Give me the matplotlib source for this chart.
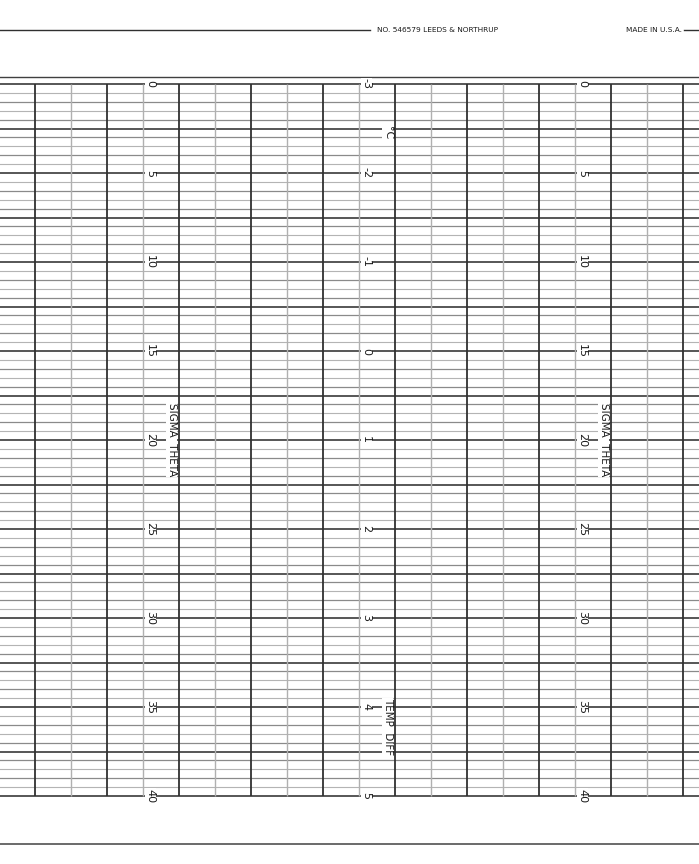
import numpy as np
import matplotlib
matplotlib.use("Agg")
import matplotlib.pyplot as plt

# ---- data ----
sigma_ticks = [0, 5, 10, 15, 20, 25, 30, 35, 40]
temp_ticks = ["-3", "-2", "-1", "0", "1", "2", "3", "4", "5"]
header_left = "NO. 546579 LEEDS & NORTHRUP"
header_right = "MADE IN U.S.A."
sigma_label = "SIGMA  THETA"
temp_label = "TEMP  DIFF"
unit_label = "°C"
n_columns = 19           # vertical rulings (column index 0..18)
label_columns = [3, 9, 15]  # columns holding the scales

W, H, DPI = 699, 864, 100
fig = plt.figure(figsize=(W / DPI, H / DPI), dpi=DPI)
ax = fig.add_axes([0, 0, 1, 1])
ax.set_axis_off()

# pixel mapping: column k at x=35+36k ; sigma s at y=84+17.8 s
px_col, x0 = 36.0, 35.0
py_s, y0 = 712.0 / 40.0, 84.0
ax.set_xlim(-x0 / px_col, (W - x0) / px_col)
ax.set_ylim((H - y0) / py_s, -y0 / py_s)

smin, smax = sigma_ticks[0], sigma_ticks[-1]

# horizontal rulings
for s in np.arange(smin, smax + 0.01, 0.5):
    if abs(s % 2.5) < 1e-6:
        c, lw = "#3a3a3a", 1.2
    elif abs(s % 1.0) < 1e-6:
        c, lw = "#8a8a8a", 0.9
    else:
        c, lw = "#b4b4b4", 0.8
    ax.axhline(s, color=c, lw=lw, zorder=1)

# vertical rulings
for k in range(n_columns):
    if k % 2 == 0:
        c, lw = "#303030", 1.3
    else:
        c, lw = "#b0b0b0", 1.0
    ax.vlines(k, smin, smax, color=c, lw=lw, zorder=2)

# border lines above and below the grid
ax.axhline(smin - 7.0 / py_s, color="#404040", lw=1.0)
ax.axhline(smax + 48.0 / py_s, color="#505050", lw=1.2)

fs = 8
fam = "DejaVu Sans"
bb = dict(facecolor="white", edgecolor="none", pad=0.3)
tc = "#1a1a1a"

# sigma scales (left and right)
for col in (label_columns[0], label_columns[2]):
    for s in sigma_ticks:
        ax.text(col + 0.2, s, str(s), rotation=-90, ha="center", va="center",
                fontsize=fs, family=fam, color=tc, bbox=bb, zorder=5)
    ax.text(col + 0.8, 20, sigma_label, rotation=-90, ha="center", va="center",
            fontsize=7.5, family=fam, color=tc, bbox=bb, zorder=5)

# temperature scale (middle)
mid = label_columns[1]
for s, t in zip(sigma_ticks, temp_ticks):
    ax.text(mid + 0.2, s, t, rotation=-90, ha="center", va="center",
            fontsize=fs, family=fam, color=tc, bbox=bb, zorder=5)
ax.text(mid + 0.8, 2.75, unit_label, rotation=-90, ha="center", va="center",
        fontsize=fs, family=fam, color=tc, bbox=bb, zorder=5)
ax.text(mid + 0.8, 36.1, temp_label, rotation=-90, ha="center", va="center",
        fontsize=7.5, family=fam, color=tc, bbox=bb, zorder=5)

# header
yh = smin - 54.0 / py_s
ax.plot([-x0 / px_col, (370 - x0) / px_col], [yh, yh], color="#303030", lw=1.0)
ax.text((377 - x0) / px_col, yh, header_left, ha="left", va="center",
        fontsize=5.3, family=fam, color=tc)
ax.text((682 - x0) / px_col, yh, header_right, ha="right", va="center",
        fontsize=5.3, family=fam, color=tc)
ax.plot([(684 - x0) / px_col, (W - x0) / px_col], [yh, yh], color="#303030", lw=1.0)

fig.savefig("out.png", dpi=DPI, facecolor="white")
